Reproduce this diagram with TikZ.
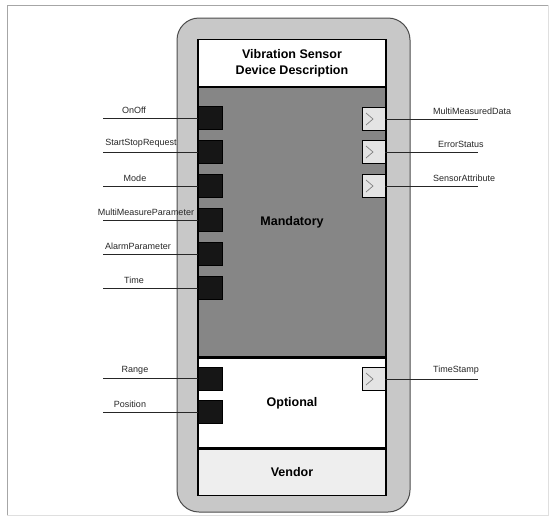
\documentclass[tikz,border=0pt]{standalone}
\usepackage{fontspec}
\setmainfont{Liberation Sans}
\usepackage{tikz}
\usetikzlibrary{positioning, calc}
\definecolor{outerbox}{RGB}{200,200,200}
\definecolor{mandfill}{RGB}{134,134,134}
\definecolor{vendfill}{RGB}{238,238,238}
\definecolor{inportc}{RGB}{22,22,22}
\definecolor{outportc}{RGB}{228,228,228}

\begin{document}
\begin{tikzpicture}[
			x=1pt, y=-1pt,
			section/.style={draw=black, line width=1.2pt, minimum width=188pt, inner sep=0pt,
				font=\fontsize{12.5}{16}\selectfont\bfseries, align=center},
			inport/.style={draw=black, fill=inportc, minimum width=24pt, minimum height=23pt, inner sep=0pt},
			outport/.style={fill=outportc, minimum width=22pt, minimum height=22pt, inner sep=0pt},
			wire/.style={black!85, line width=0.8pt},
			portlabel/.style={font=\fontsize{9}{10}\selectfont, text=black!85, inner sep=1pt}
			]
			\useasboundingbox (0,0) rectangle (549,520);
			
			% Frame
			\draw[gray!70, line width=0.8pt] (7,515) -- (7,5) -- (548,5);
			\draw[gray!25, line width=0.8pt] (7,515) -- (548,515) -- (548,5);
			
			% Outer housing
			\draw[fill=outerbox, draw=black!70, line width=1pt, rounded corners=22pt] (177,18) rectangle (410,512);
			
			% Sections
			\node[section, fill=white, minimum height=47pt, anchor=north] (title) at (292,39) {Vibration Sensor\\Device Description};
			\node[section, fill=mandfill, minimum height=269pt, below=0pt of title] (mand) {Mandatory};
			\node[section, fill=white, minimum height=90pt, below=0pt of mand] (opt) {Optional};
			\node[section, fill=vendfill, minimum height=46pt, below=0pt of opt] (vendor) {Vendor};
			
			% Input ports
			\foreach \name/\lbl/\yy/\lx in {onoff/OnOff/118/134, startstop/StartStopRequest/152/141,
				mode/Mode/186/135, multimeas/MultiMeasureParameter/220/146, alarm/AlarmParameter/254/138,
				time/Time/288/134, range/Range/378.5/135, position/Position/412/130} {
				\node[inport] (\name) at (210,\yy) {};
				\coordinate (\name-end) at (103,\yy);
				\draw[wire] (\name-end) -- (\name);
				\node[portlabel, anchor=south] (\name-lbl) at (\lx,\yy-3) {\lbl};
			}
			
			% Output ports
			\foreach \name/\lbl/\yy/\lx in {multidata/MultiMeasuredData/119/432, errstat/ErrorStatus/152/437,
				sensattr/SensorAttribute/186/432, timestamp/TimeStamp/379/432} {
				\node[outport] (\name) at (374,\yy) {};
				\draw[black, line width=1pt] (\name.north east) -- (\name.north west) -- (\name.south west) -- (\name.south east);
				\draw[gray, line width=0.7pt] ($(\name.center)+(-8,-6)$) -- ($(\name.center)+(-1,0)$) -- ($(\name.center)+(-8,6)$);
				\coordinate (\name-end) at (478,\yy);
				\draw[wire] (\name) -- (\name-end);
				\node[portlabel, anchor=south west] (\name-lbl) at (\lx,\yy-3) {\lbl};
			}
			
		\end{tikzpicture}
\end{document}
